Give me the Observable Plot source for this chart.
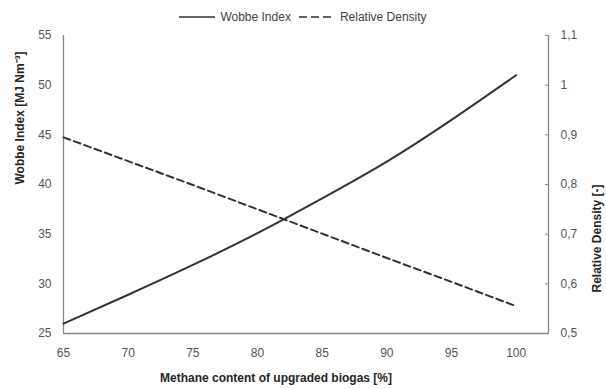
<!DOCTYPE html>
<html>
<head>
<meta charset="utf-8">
<script src="https://cdn.jsdelivr.net/npm/d3@7"></script>
<script src="https://cdn.jsdelivr.net/npm/@observablehq/plot@0.6"></script>
<style>
  body { margin: 0; background: #fff; font-family: "Liberation Sans", Arial, sans-serif; }
  #legend { width: 606px; height: 14px; padding-top: 10px; display: flex; justify-content: center; align-items: center; font-size: 12px; color: #444; line-height: 14px; }
  #legend .item { display: flex; align-items: center; margin: 0 4px; }
  #legend svg { margin-right: 5px; }
</style>
</head>
<body>
<div id="legend"></div>
<div id="chart"></div>
<script>
// Data
const methane = [65, 70, 75, 80, 85, 90, 95, 100];
const wobbe   = [26.0, 28.9, 31.9, 35.1, 38.6, 42.3, 46.5, 51.0];
const density = [0.895, 0.847, 0.799, 0.750, 0.701, 0.652, 0.604, 0.555];

const xTicks = [65, 70, 75, 80, 85, 90, 95, 100];
const wobbeTicks = [25, 30, 35, 40, 45, 50, 55];
const densityTicks = [0.5, 0.6, 0.7, 0.8, 0.9, 1.0, 1.1];

const seriesNames = ["Wobbe Index", "Relative Density"];
const xTitle = "Methane content of upgraded biogas [%]";
const yLeftTitle = "Wobbe Index [MJ Nm\u207B\u00B3]";
const yRightTitle = "Relative Density [-]";

// map density onto the Wobbe scale (0.5..1.1 -> 25..55)
const toY = d => 25 + (d - 0.5) * 50;
const fmtD = d => (Math.abs(d - 1) < 1e-9 ? "1" : d.toFixed(1).replace(".", ","));

const rows = methane.map((m, i) => ({ m, w: wobbe[i], d: toY(density[i]) }));
const ink = "#333";
const axisGray = "#868686";
const tickText = "#555";

const chart = Plot.plot({
  width: 606,
  height: 365,
  marginLeft: 63,
  marginRight: 58,
  marginTop: 11,
  marginBottom: 56,
  style: { fontFamily: "'Liberation Sans', Arial, sans-serif", fontSize: "12px", overflow: "visible" },
  x: { domain: [65, 102.5], axis: null },
  y: { domain: [25, 55], axis: null },
  marks: [
    Plot.axisX({ ticks: xTicks, tickSize: 0, tickPadding: 15, label: null, fill: tickText, fontSize: 12 }),
    Plot.axisY({ anchor: "left", ticks: wobbeTicks, tickSize: 0, tickPadding: 12, label: null, fill: tickText, fontSize: 12 }),
    Plot.axisY({ anchor: "right", ticks: densityTicks.map(toY), tickFormat: v => fmtD((v - 25) / 50 + 0.5), tickSize: -4, tickPadding: 16, label: null, stroke: axisGray, fill: tickText, fontSize: 12 }),
    Plot.ruleX([65], { y1: 25, y2: 55, stroke: axisGray, strokeWidth: 1.3 }),
    Plot.ruleX([102.5], { y1: 25, y2: 55, stroke: axisGray, strokeWidth: 1.3 }),
    Plot.ruleY([25], { x1: 65, x2: 102.5, stroke: axisGray, strokeWidth: 1.3 }),
    Plot.line(rows, { x: "m", y: "d", stroke: ink, strokeWidth: 2, strokeDasharray: "7,4" }),
    Plot.line(rows, { x: "m", y: "w", stroke: ink, strokeWidth: 2, curve: "natural" }),
    Plot.text([yLeftTitle], { frameAnchor: "left", rotate: -90, dx: -43, fontWeight: "bold", fontSize: 12, fill: "#262626" }),
    Plot.text([yRightTitle], { frameAnchor: "right", rotate: -90, dx: 49, fontWeight: "bold", fontSize: 12, fill: "#262626" }),
    Plot.text([xTitle], { frameAnchor: "bottom", dy: 48, dx: -30, fontWeight: "bold", fontSize: 12, fill: "#262626" })
  ]
});
document.getElementById("chart").appendChild(chart);

// Legend
const legend = d3.select("#legend");
seriesNames.forEach((name, i) => {
  const item = legend.append("div").attr("class", "item");
  const s = item.append("svg").attr("width", 36).attr("height", 6);
  s.append("line").attr("x1", 0).attr("x2", 36).attr("y1", 3).attr("y2", 3)
    .attr("stroke", ink).attr("stroke-width", 1.5)
    .attr("stroke-dasharray", i === 1 ? "8,4" : null);
  item.append("span").text(name);
});
</script>
</body>
</html>
